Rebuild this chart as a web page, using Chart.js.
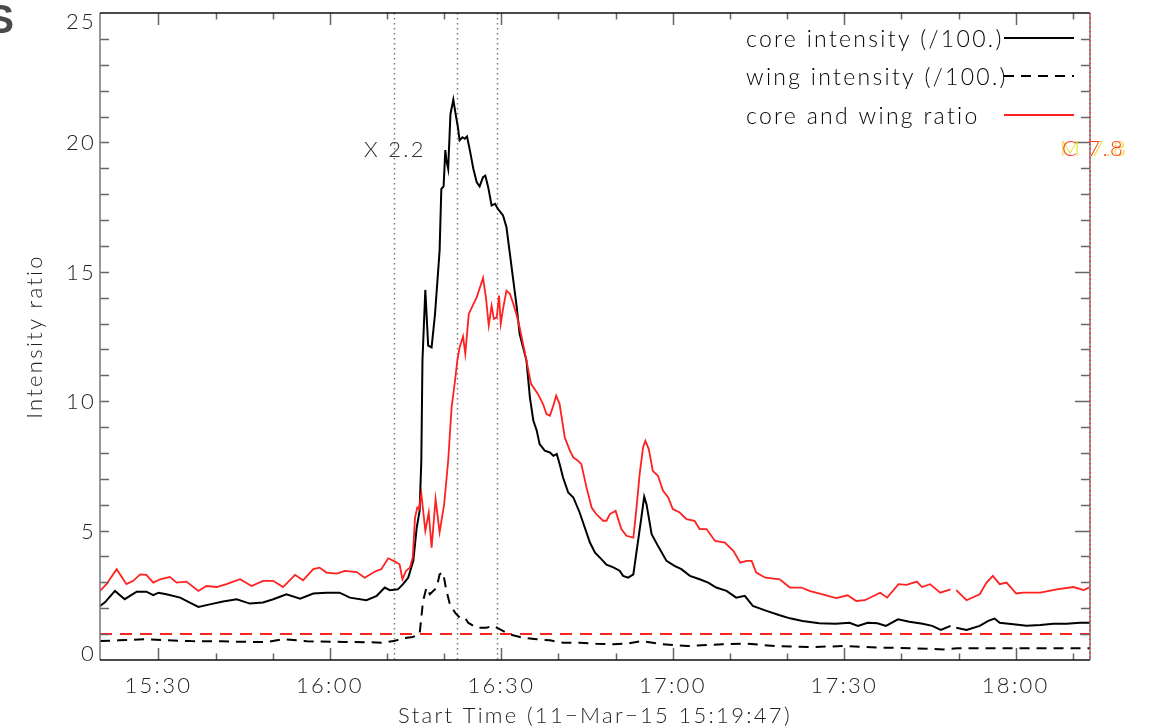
<!DOCTYPE html>
<html><head><meta charset="utf-8">
<script src="https://cdn.jsdelivr.net/npm/chart.js@4.4.0/dist/chart.umd.min.js"></script>
<style>html,body{margin:0;padding:0;background:#fff;}#wrap{width:1151px;height:727px;}</style>
</head><body><div id="wrap"><canvas id="c" width="1151" height="727"></canvas></div>
<script>
// time in minutes after 15:00 (11-Mar-15)
const coreT = [19.8,20.6,22.4,24.1,26.2,27.9,29.1,30.0,31.4,33.8,35.5,37.0,39.0,41.3,43.7,46.0,48.3,50.1,52.4,54.8,57.1,59.4,61.7,63.5,66.4,68.2,69.6,70.5,71.9,72.8,73.7,74.6,75.2,75.7,76.0,76.2,76.7,77.2,77.8,78.4,79.2,79.5,79.9,80.2,80.4,80.7,81.1,81.6,82.0,82.4,82.7,83.2,83.6,84.0,84.5,85.1,85.7,86.2,86.8,87.2,87.7,88.3,88.9,89.4,90.3,90.9,91.5,92.1,92.7,93.2,93.8,94.4,95.0,95.6,96.2,96.7,97.6,98.5,99.1,99.7,100.2,100.8,101.7,102.6,103.7,104.6,105.5,106.4,107.5,108.4,109.6,110.7,111.3,112.2,113.1,113.6,114.5,115.0,115.4,116.3,117.4,118.9,120.3,121.5,123.0,124.7,126.2,127.6,129.4,131.1,132.6,134.0,136.4,138.7,140.5,142.7,145.6,148.5,150.9,152.4,154.1,155.8,157.3,159.4,161.4,163.7,165.4,166.9,168.6,169.0,169.6,171.4,173.7,175.2,176.3,177.2,179.6,181.9,184.3,186.6,188.9,191.3,193.0];
const coreV = [2.09,2.22,2.67,2.35,2.64,2.64,2.51,2.60,2.54,2.41,2.22,2.05,2.15,2.26,2.35,2.18,2.22,2.35,2.54,2.37,2.57,2.60,2.60,2.41,2.31,2.48,2.80,2.70,2.73,2.93,3.18,3.83,5.12,5.76,7.7,11.57,14.30,12.15,12.08,13.37,15.82,18.2,18.3,19.7,19.3,18.98,21.1,21.65,21.1,20.59,20.08,20.2,20.14,20.23,19.69,18.98,18.46,18.3,18.66,18.72,18.27,17.56,17.63,17.43,17.18,16.72,15.69,14.66,13.63,12.6,12.08,11.57,10.15,9.25,8.86,8.34,8.09,8.02,7.89,7.96,7.57,7.05,6.47,6.28,5.70,5.12,4.54,4.15,3.90,3.68,3.58,3.45,3.25,3.18,3.31,4.09,5.50,6.31,6.02,4.86,4.41,3.83,3.64,3.51,3.25,3.12,2.99,2.80,2.67,2.41,2.48,2.09,1.90,1.73,1.61,1.51,1.42,1.40,1.44,1.32,1.44,1.42,1.32,1.57,1.48,1.40,1.32,1.16,1.32,null,1.25,1.16,1.32,1.51,1.60,1.44,1.38,1.32,1.35,1.40,1.40,1.44,1.44];

const wingT = [19.8,23.0,27.6,31.5,35.7,41.0,46.0,49.2,51.8,56.0,62.4,66.0,69.1,71.2,73.1,74.5,75.7,76.3,76.9,77.5,78.1,78.7,79.2,79.8,80.4,81.0,81.9,82.7,83.6,84.2,85.7,87.4,88.6,89.7,91.5,93.8,96.2,98.5,100.8,103.7,106.6,109.6,111.9,114.6,118.2,122.6,128.7,133.0,137.9,144.0,150.2,156.3,162.5,167.4,169.8,174.7,180.3,187.0,193.0];
const wingV = [0.73,0.76,0.80,0.76,0.73,0.72,0.70,0.70,0.81,0.72,0.70,0.69,0.67,0.73,0.85,0.89,0.99,2.28,2.80,2.54,2.67,2.80,3.31,3.38,2.67,2.15,1.83,1.64,1.64,1.44,1.25,1.25,1.32,1.19,0.99,0.86,0.80,0.76,0.67,0.67,0.63,0.61,0.63,0.73,0.61,0.54,0.61,0.63,0.54,0.50,0.54,0.48,0.45,0.41,0.45,0.45,0.45,0.45,0.45];

const ratioT = [19.8,20.9,22.7,24.4,25.6,26.8,27.9,29.1,30.3,32.0,33.2,34.9,37.0,38.4,40.2,41.9,44.3,46.3,48.3,50.1,51.8,53.9,55.3,57.1,58.2,59.4,61.2,62.6,64.7,66.1,67.9,69.0,70.2,71.4,72.2,72.7,73.3,74.0,74.5,74.9,75.3,75.6,76.0,76.7,77.3,77.8,78.5,79.2,80.0,80.7,81.3,81.9,82.3,82.7,83.3,83.7,84.3,85.7,86.8,87.3,87.8,88.3,88.7,89.2,89.6,89.9,90.3,90.9,91.5,92.1,92.7,93.2,93.8,94.4,95.2,96.4,97.3,97.9,98.5,99.0,99.6,100.2,101.1,102.0,102.6,103.4,104.0,104.9,105.8,106.6,107.8,108.4,109.0,110.0,111.0,111.9,113.1,113.6,114.2,114.8,115.2,115.8,116.5,117.4,118.3,119.2,120.0,121.2,122.4,123.8,124.7,125.9,127.4,129.1,130.6,131.8,132.9,133.8,134.6,136.2,138.7,140.5,142.5,143.9,146.2,148.6,150.6,152.1,153.6,156.3,157.5,159.5,160.9,162.7,163.6,165.0,166.8,168.6,169.0,169.6,171.4,173.7,174.9,176.0,177.2,178.4,180.1,181.3,184.3,187.2,190.1,191.9,193.0];
const ratioV = [2.67,2.93,3.51,2.93,3.06,3.31,3.29,2.99,3.12,3.21,2.99,3.03,2.67,2.86,2.82,2.93,3.12,2.86,3.06,3.06,2.82,3.29,3.08,3.51,3.57,3.38,3.34,3.44,3.40,3.18,3.42,3.51,3.93,3.80,3.70,3.12,3.44,3.57,3.96,5.5,5.89,5.83,6.43,4.99,5.70,4.34,6.22,4.93,6.02,7.70,9.76,10.79,11.57,12.08,12.5,11.83,13.37,14.02,14.76,14.02,12.92,13.69,13.18,13.24,14.08,12.99,13.57,14.27,14.15,13.76,13.31,12.86,12.21,11.57,10.67,10.28,9.89,9.50,9.44,9.76,10.21,9.89,8.60,8.09,7.83,7.70,7.57,6.67,5.89,5.64,5.38,5.38,5.64,5.76,5.06,4.80,4.73,5.76,7.18,8.21,8.47,8.15,7.31,7.12,6.54,6.28,5.83,5.70,5.44,5.38,5.06,5.06,4.60,4.54,4.22,3.76,3.83,3.83,3.38,3.18,3.12,2.80,2.80,2.67,2.54,2.39,2.50,2.28,2.31,2.60,2.41,2.93,2.90,3.03,2.82,2.93,2.60,2.73,null,2.70,2.31,2.54,2.99,3.25,2.93,2.99,2.57,2.60,2.60,2.73,2.82,2.70,2.82];

const refT = [19.78,193];
const refV = [1,1];

const flareTimes = [71.2, 82.2, 89.2];
const xTickValues = [30,60,90,120,150,180];
const xTickLabels = ['15:30','16:00','16:30','17:00','17:30','18:00'];
const yTickValues = [0,5,10,15,20,25];
const yTickLabels = ['0','5','10','15','20','25'];
const legendLabels = ['core intensity (/100.)','wing intensity (/100.)','core and wing ratio'];

const X_MIN = 19.78, X_MAX = 193, Y_MIN = 0, Y_MAX = 25;
const FONT = 'Lato';
const SPACING = '2.3px';
const TXT = '#222';

function pts(T,V){return T.map((t,i)=>({x:t,y:V[i]}));}

const framePlugin = {
  id:'frame',
  beforeLayout(chart){ chart.ctx.letterSpacing=SPACING; },
  beforeDraw(chart){ chart.ctx.letterSpacing=SPACING; },
  beforeDatasetsDraw(chart){
    const {ctx, chartArea:a, scales:{x}} = chart;
    ctx.save();
    ctx.strokeStyle='#777'; ctx.lineWidth=1.5; ctx.setLineDash([1.5,3.5]);
    flareTimes.forEach(t=>{const px=Math.round(x.getPixelForValue(t))+0.5;ctx.beginPath();ctx.moveTo(px,a.top);ctx.lineTo(px,a.bottom);ctx.stroke();});
    ctx.restore();
  },
  afterDraw(chart){
    const {ctx, chartArea:a, scales:{x,y}} = chart;
    ctx.save();
    ctx.letterSpacing=SPACING;
    ctx.strokeStyle='#666'; ctx.lineWidth=1.5; ctx.setLineDash([]);
    for(let t=30;t<=190;t+=10){
      const px=Math.round(x.getPixelForValue(t))+0.5; const L=(t%30===0)?12:6.5;
      ctx.beginPath();ctx.moveTo(px,a.bottom);ctx.lineTo(px,a.bottom-L);ctx.moveTo(px,a.top);ctx.lineTo(px,a.top+L);ctx.stroke();
    }
    for(let v=1;v<25;v++){
      const py=Math.round(y.getPixelForValue(v))+0.5;
      const Lr=(v%5===0)?15:9;
      ctx.beginPath();ctx.moveTo(a.left,py);ctx.lineTo(a.left+9,py);ctx.moveTo(a.right,py);ctx.lineTo(a.right-Lr,py);ctx.stroke();
    }
    ctx.lineWidth=1.5;
    ctx.strokeStyle='#777';
    ctx.beginPath();ctx.moveTo(a.left,a.top);ctx.lineTo(a.left,a.bottom);ctx.moveTo(a.right,a.top);ctx.lineTo(a.right,a.bottom);ctx.stroke();
    ctx.strokeStyle='#111';
    ctx.beginPath();ctx.moveTo(a.left,a.top);ctx.lineTo(a.right,a.top);ctx.moveTo(a.left,a.bottom);ctx.lineTo(a.right,a.bottom);ctx.stroke();
    ctx.strokeStyle='#ff3030'; ctx.setLineDash([1.5,3]);
    ctx.beginPath();ctx.moveTo(a.right,a.top);ctx.lineTo(a.right,a.bottom);ctx.stroke();
    ctx.setLineDash([]);
    ctx.font='300 22px '+FONT; ctx.fillStyle=TXT; ctx.textAlign='right'; ctx.textBaseline='middle';
    yTickValues.forEach((v,i)=>{
      let py=y.getPixelForValue(v);
      py=Math.max(a.top+8,Math.min(a.bottom-7,py));
      ctx.fillText(yTickLabels[i],96,py+1);
    });
    ctx.textAlign='left';
    ctx.font='300 23px '+FONT;
    const ly=[40,78,117];
    chart.data.datasets.slice(0,3).forEach((ds,i)=>{
      ctx.fillStyle='#000'; ctx.fillText(ds.label,746,ly[i]);
      ctx.strokeStyle=ds.borderColor; ctx.lineWidth=2; ctx.setLineDash(ds.borderDash||[]);
      ctx.beginPath();ctx.moveTo(1004,ly[i]-2);ctx.lineTo(1074,ly[i]-2);ctx.stroke();
    });
    ctx.setLineDash([]);
    ctx.font='300 22px '+FONT;
    ctx.fillStyle='#333'; ctx.fillText('X 2.2',364,150);
    ctx.fillStyle='#e8e020'; ctx.fillText('M 7.8',1060,149);
    ctx.fillStyle='#ff3b30'; ctx.fillText('C 7.8',1062,149);
    ctx.letterSpacing='0px';
    ctx.font='bold 40px "Liberation Sans"'; ctx.fillStyle='#4a4a4a'; ctx.textAlign='right'; ctx.textBaseline='alphabetic';
    ctx.fillText('S',14,33);
    ctx.restore();
  }
};

new Chart(document.getElementById('c'),{
  type:'line',
  data:{datasets:[
    {label:legendLabels[0],data:pts(coreT,coreV),borderColor:'#000',borderWidth:2,pointRadius:0,spanGaps:false,order:2},
    {label:legendLabels[1],data:pts(wingT,wingV),borderColor:'#000',borderWidth:2,borderDash:[10,7],pointRadius:0,order:3},
    {label:legendLabels[2],data:pts(ratioT,ratioV),borderColor:'#ff2020',borderWidth:1.8,pointRadius:0,spanGaps:false,order:1},
    {label:'ratio = 1',data:pts(refT,refV),borderColor:'#ff2020',borderWidth:2,borderDash:[12,8],pointRadius:0,order:4}
  ]},
  options:{
    responsive:false, animation:false,
    layout:{padding:{top:13,right:61,left:0,bottom:0}},
    plugins:{legend:{display:false},tooltip:{enabled:false}},
    scales:{
      x:{type:'linear',min:X_MIN,max:X_MAX,
        grid:{display:false,drawTicks:false},border:{display:false},
        afterBuildTicks:(s)=>{s.ticks=xTickValues.map(v=>({value:v}));},
        afterFit:(s)=>{s.height=67;},
        ticks:{autoSkip:false,maxRotation:0,padding:13,color:TXT,font:{family:FONT,size:22,weight:300},
          callback:(v)=>xTickLabels[xTickValues.indexOf(v)]},
        title:{display:true,text:'Start Time (11\u2212Mar\u221215 15:19:47)',color:TXT,font:{family:FONT,size:22,weight:300,lineHeight:1},padding:{top:0,bottom:0}}
      },
      y:{min:Y_MIN,max:Y_MAX,
        grid:{display:false,drawTicks:false},border:{display:false},
        ticks:{display:false},
        afterFit:(s)=>{s.width=100;},
        title:{display:true,text:'Intensity ratio',color:TXT,font:{family:FONT,size:22,weight:300,lineHeight:1},padding:{top:24,bottom:0}}
      }
    }
  },
  plugins:[framePlugin]
});
</script></body></html>
